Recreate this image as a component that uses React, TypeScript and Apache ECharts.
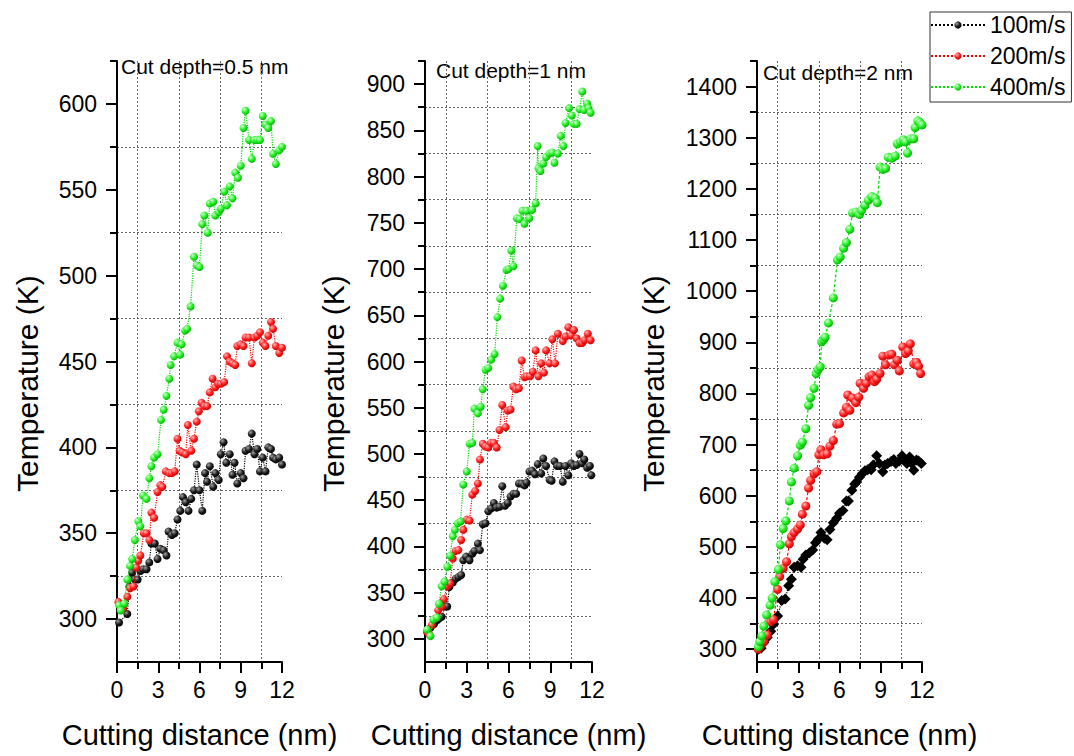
import React, { useEffect, useRef } from 'react';
import * as echarts from 'echarts';

const FONT = '"Liberation Sans", Arial, Helvetica, sans-serif';

const SPEEDS = ['100m/s', '200m/s', '400m/s'];
const DEPTH_LABELS = ['Cut depth=0.5 nm', 'Cut depth=1 nm', 'Cut depth=2 nm'];
const X_NAME = 'Cutting distance (nm)';
const Y_NAME = 'Temperature (K)';
const X_MIN = 0;
const X_MAX = 12;
const X_STEP = 3;
const Y_MIN = [275, 275, 275];
const Y_MAX = [625, 925, 1450];
const Y_STEP = [50, 50, 100];

// ---- Panel 1 : cut depth 0.5 nm ----
const p1_100_x = [0.15,0.75,0.9,1.1,1.3,1.5,1.7,1.9,2.15,2.35,2.5,2.75,2.95,3.15,3.4,3.6,3.75,4.0,4.2,4.4,4.6,4.8,5.0,5.2,5.4,5.6,5.8,6.0,6.2,6.4,6.55,6.75,7.0,7.15,7.4,7.55,7.75,7.95,8.2,8.4,8.55,8.75,9.0,9.2,9.35,9.6,9.8,10.0,10.2,10.4,10.6,10.8,11.0,11.2,11.35,11.55,11.8,12.0];
const p1_100_t = [298,303,319,327,323,323,328,329,329,333,344,344,335,341,340,337,351,349,350,358,363,371,368,363,370,375,390,375,363,385,380,389,377,385,381,396,403,391,396,384,391,379,385,382,398,399,408,396,399,386,394,386,400,399,394,393,394,390];
const p1_200_x = [0.1,0.45,0.75,0.95,1.2,1.4,1.55,1.7,1.95,2.15,2.35,2.5,2.7,2.95,3.15,3.3,3.55,3.8,4.0,4.2,4.4,4.55,4.75,5.0,5.15,5.4,5.6,5.8,5.95,6.15,6.35,6.55,6.75,6.95,7.15,7.35,7.55,7.8,8.0,8.2,8.4,8.6,8.75,9.0,9.2,9.35,9.6,9.8,10.0,10.2,10.4,10.6,10.8,11.0,11.2,11.35,11.55,11.8,12.0];
const p1_200_t = [310,306,313,318,319,330,334,337,350,350,346,362,359,374,378,377,386,385,385,386,405,398,397,396,413,398,405,415,421,426,424,424,432,440,435,437,437,438,453,450,449,448,459,460,459,464,464,449,464,465,467,461,459,465,473,469,459,455,458];
const p1_400_x = [0.15,0.27,0.53,0.75,0.95,1.1,1.3,1.55,1.7,1.9,2.15,2.35,2.5,2.7,2.95,3.2,3.4,3.6,3.8,3.9,4.15,4.4,4.6,4.7,4.95,5.1,5.35,5.6,5.8,6.0,6.2,6.35,6.6,6.75,7.0,7.15,7.4,7.55,7.8,8.0,8.2,8.4,8.6,8.8,9.0,9.2,9.35,9.6,9.8,10.0,10.2,10.4,10.6,10.8,11.0,11.2,11.35,11.55,11.8,12.0];
const p1_400_t = [308,305,309,323,331,335,346,357,354,372,370,382,389,394,396,416,422,430,440,448,453,461,454,460,468,469,482,511,506,505,530,535,525,542,543,535,537,539,549,541,552,545,560,557,564,586,596,579,568,579,579,579,593,588,586,590,571,565,573,575];

// ---- Panel 2 : cut depth 1 nm ----
const p2_100_x = [0.15,0.4,0.65,0.85,1.0,1.2,1.45,1.6,1.75,2.0,2.2,2.4,2.6,2.75,2.95,3.2,3.4,3.55,3.8,3.95,4.15,4.35,4.55,4.75,4.95,5.15,5.35,5.55,5.75,5.95,6.15,6.35,6.55,6.75,6.95,7.15,7.3,7.5,7.7,7.9,8.1,8.35,8.5,8.7,8.95,9.1,9.3,9.5,9.7,9.9,10.1,10.3,10.5,10.7,10.9,11.1,11.3,11.45,11.65,11.85,11.95];
const p2_100_t = [308,312,316,320,322,324,335,335,356,361,365,367,369,385,389,385,392,395,403,396,424,425,438,441,447,442,443,465,444,447,454,457,457,468,468,466,469,481,482,478,489,479,495,487,472,471,492,487,487,470,487,477,490,487,488,500,490,494,485,487,477];
const p2_200_x = [0.15,0.3,0.5,0.75,0.95,1.2,1.35,1.6,1.8,2.0,2.2,2.4,2.6,2.75,3.0,3.2,3.4,3.6,3.8,3.95,4.15,4.35,4.55,4.75,4.95,5.15,5.35,5.55,5.8,5.95,6.15,6.35,6.55,6.75,6.95,7.15,7.3,7.55,7.75,7.95,8.15,8.35,8.55,8.7,8.95,9.15,9.35,9.55,9.9,10.1,10.3,10.5,10.7,10.9,11.1,11.3,11.45,11.7,11.9];
const p2_200_t = [308,305,315,322,331,335,343,357,360,387,395,396,407,418,429,428,456,460,468,494,511,508,507,512,512,507,526,553,529,547,548,573,570,571,601,583,584,584,589,612,584,598,588,612,598,624,598,630,622,627,637,628,634,625,620,620,623,630,623];
const p2_400_x = [0.15,0.4,0.6,0.85,1.0,1.2,1.4,1.6,1.8,2.0,2.15,2.35,2.55,2.75,3.0,3.2,3.4,3.55,3.8,4.0,4.15,4.35,4.55,4.75,5.0,5.2,5.4,5.6,5.85,6.0,6.2,6.35,6.6,6.8,7.0,7.15,7.3,7.5,7.7,7.95,8.1,8.15,8.3,8.5,8.7,8.95,9.15,9.3,9.55,9.75,9.95,10.1,10.35,10.55,10.7,10.9,11.1,11.3,11.45,11.65,11.75,11.9];
const p2_400_t = [310,303,321,323,338,357,362,378,390,411,418,425,427,467,481,511,512,549,544,551,570,591,593,602,608,648,668,682,699,700,720,703,755,754,763,749,763,755,764,771,833,809,806,814,821,825,826,815,825,844,833,858,874,866,857,857,873,892,872,879,874,869];

// ---- Panel 3 : cut depth 2 nm ----
const p3_100_x = [0.1,0.3,0.5,0.75,1.0,1.2,1.5,1.8,2.05,2.3,2.5,2.7,2.95,3.2,3.35,3.55,3.8,4.05,4.25,4.45,4.65,4.9,5.1,5.3,5.55,5.8,6.0,6.25,6.5,6.65,6.9,7.1,7.25,7.45,7.65,7.85,8.05,8.3,8.45,8.7,8.9,9.15,9.3,9.5,9.75,9.95,10.1,10.35,10.55,10.7,10.9,11.1,11.25,11.4,11.6,11.75,11.95];
const p3_100_t = [300,302,313,323,335,349,365,395,398,424,437,460,463,460,476,484,488,494,508,515,528,517,514,534,547,556,566,571,590,590,611,623,627,636,643,649,651,651,660,678,663,647,660,663,667,671,663,668,678,670,663,676,663,650,670,668,663];
const p3_200_x = [0.1,0.25,0.5,0.75,1.0,1.2,1.5,1.65,1.9,2.15,2.35,2.5,2.7,2.95,3.15,3.3,3.55,3.75,3.9,4.15,4.35,4.5,4.65,4.85,5.1,5.3,5.55,5.8,6.0,6.3,6.5,6.6,6.75,6.95,7.2,7.4,7.5,7.75,7.95,8.15,8.35,8.55,8.7,8.95,9.15,9.35,9.6,9.8,10.0,10.2,10.35,10.6,10.8,11.0,11.15,11.4,11.6,11.75,11.9];
const p3_200_t = [300,306,315,328,354,358,417,442,458,471,506,520,528,535,543,564,580,615,630,643,647,680,690,680,682,697,708,740,741,762,773,797,767,791,782,793,820,810,820,833,836,823,828,839,873,856,875,877,856,865,844,891,878,883,897,858,861,853,839];
const p3_400_x = [0.1,0.2,0.35,0.5,0.7,0.95,1.1,1.3,1.55,1.7,1.9,2.1,2.35,2.5,2.7,2.95,3.15,3.3,3.55,3.75,3.9,4.15,4.3,4.45,4.6,4.7,4.85,4.95,5.2,5.55,5.85,6.05,6.3,6.5,6.75,6.95,7.2,7.45,7.6,7.85,8.1,8.35,8.6,8.75,8.95,9.15,9.35,9.55,9.8,10.05,10.2,10.45,10.65,10.8,10.95,11.2,11.4,11.5,11.7,11.85,12.0];
const p3_400_t = [305,315,326,345,367,386,400,432,456,504,536,551,590,627,654,678,699,705,731,777,792,810,839,847,852,901,905,910,938,987,1061,1067,1084,1095,1121,1153,1155,1150,1158,1168,1178,1185,1182,1173,1243,1238,1240,1262,1260,1264,1288,1292,1296,1292,1270,1298,1298,1320,1333,1330,1325];

const PANEL_DATA = [
  [[p1_100_x, p1_100_t], [p1_200_x, p1_200_t], [p1_400_x, p1_400_t]],
  [[p2_100_x, p2_100_t], [p2_200_x, p2_200_t], [p2_400_x, p2_400_t]],
  [[p3_100_x, p3_100_t], [p3_200_x, p3_200_t], [p3_400_x, p3_400_t]],
];

// layout (pixels)
const GRID_LEFT = [117, 425, 757];
const GRID_WIDTH = [165, 167, 165];
const GRID_TOP = 61;
const GRID_HEIGHT = 601;
const Y_NAME_GAP = [75, 77, 89];
const NOTE_POS = [[121, 56], [436, 60], [763, 62]];

const LINE_COLORS = ['#000000', '#ff0000', '#00dd00'];
const BALL_STOPS = [
  ['#a0a0a0', '#1c1c1c', '#000000'],
  ['#ffb4b4', '#ff2020', '#c80000'],
  ['#d0ffd0', '#26f026', '#00b000'],
];

function ball(stops: string[]) {
  return {
    type: 'radial', x: 0.35, y: 0.32, r: 0.72,
    colorStops: [
      { offset: 0, color: stops[0] },
      { offset: 0.55, color: stops[1] },
      { offset: 1, color: stops[2] },
    ],
  };
}

function range(a: number, b: number, step: number) {
  const out: number[] = [];
  for (let v = a; v <= b + 1e-9; v += step) out.push(v);
  return out;
}

function buildOption() {
  const axisLineStyle = { color: '#000', width: 2 };
  const grid: any[] = [];
  const xAxis: any[] = [];
  const yAxis: any[] = [];
  const series: any[] = [];
  const graphic: any[] = [];

  for (let p = 0; p < 3; p++) {
    grid.push({
      left: GRID_LEFT[p], width: GRID_WIDTH[p], top: GRID_TOP, height: GRID_HEIGHT,
      containLabel: false, outerBoundsMode: 'none',
    });
    xAxis.push({
      type: 'value', gridIndex: p, min: X_MIN, max: X_MAX, interval: X_STEP,
      position: 'bottom',
      name: X_NAME, nameLocation: 'middle', nameGap: 58, nameMoveOverlap: false,
      nameTextStyle: { fontSize: 29, fontFamily: FONT, color: '#000' },
      axisLine: { show: true, onZero: false, lineStyle: axisLineStyle },
      axisTick: { show: true, length: 11, lineStyle: axisLineStyle },
      minorTick: { show: true, splitNumber: 2, length: 7, lineStyle: axisLineStyle },
      minorSplitLine: { show: true, lineStyle: { color: '#666', width: 1, type: [2, 2] } },
      splitLine: { show: false },
      axisLabel: { fontSize: 23, fontFamily: FONT, color: '#000', margin: 16, formatter: (v: number) => String(v) },
    });
    const lo = Y_MIN[p];
    const hi = Y_MAX[p];
    const st = Y_STEP[p];
    const firstMajor = Math.ceil(lo / st) * st;
    const majors = range(firstMajor, hi, st);
    const minors = range(firstMajor + st / 2, hi, st);
    // axis carrying data, grid lines and short ticks
    yAxis.push({
      type: 'value', gridIndex: p, min: lo, max: hi, position: 'left',
      name: Y_NAME, nameLocation: 'middle', nameGap: Y_NAME_GAP[p], nameMoveOverlap: false,
      nameTextStyle: { fontSize: 30, fontFamily: FONT, color: '#000', padding: [0, 44, 0, 0] },
      axisLine: { show: true, onZero: false, lineStyle: axisLineStyle },
      axisTick: { show: true, length: 7, lineStyle: axisLineStyle, customValues: minors },
      axisLabel: { show: false },
      splitLine: { show: true, showMaxLine: false, lineStyle: { color: '#666', width: 1, type: [2, 2] } },
    });
    // axis carrying labels and long ticks
    yAxis.push({
      type: 'value', gridIndex: p, min: lo, max: hi, position: 'left', offset: 0,
      axisLine: { show: false },
      axisTick: { show: true, length: 11, lineStyle: axisLineStyle, customValues: majors },
      axisLabel: {
        show: true, fontSize: 23, fontFamily: FONT, color: '#000', margin: 20,
        customValues: majors, formatter: (v: number) => String(v),
      },
      splitLine: { show: false },
    });

    for (let s = 0; s < 3; s++) {
      const [xs, ts] = PANEL_DATA[p][s];
      const diamond = p === 2 && s === 0;
      series.push({
        type: 'line', name: SPEEDS[s], xAxisIndex: p, yAxisIndex: 2 * p,
        data: xs.map((x: number, i: number) => [x, ts[i]]),
        symbol: diamond ? 'diamond' : 'circle',
        symbolSize: diamond ? 11 : (p === 2 ? 9 : 8),
        showSymbol: true,
        lineStyle: { color: LINE_COLORS[s], width: 1.2, type: p === 2 && s > 0 ? [3, 2] : 'dotted' },
        itemStyle: { color: diamond ? '#000' : ball(BALL_STOPS[s]), borderWidth: 0 },
        z: 2 + s,
        silent: true,
      });
    }

    graphic.push({
      type: 'text', left: NOTE_POS[p][0], top: NOTE_POS[p][1],
      style: { text: DEPTH_LABELS[p], fontSize: 21, fontFamily: FONT, fill: '#000' },
    });
  }

  return {
    animation: false,
    backgroundColor: '#fff',
    textStyle: { fontFamily: FONT },
    grid, xAxis, yAxis, series, graphic,
    legend: {
      data: SPEEDS, orient: 'vertical', left: 930, top: 12,
      itemWidth: 54, itemHeight: 9, itemGap: 7,
      padding: [1, 6, 3, 0],
      borderColor: '#333', borderWidth: 1,
      textStyle: { fontSize: 23, fontFamily: FONT, color: '#000', lineHeight: 24 },
    },
  };
}

export default function App() {
  const ref = useRef<HTMLDivElement>(null);
  useEffect(() => {
    document.body.style.margin = '0';
    if (!ref.current) return;
    const chart = echarts.init(ref.current, null, { renderer: 'svg' });
    chart.setOption(buildOption() as any);
    return () => chart.dispose();
  }, []);
  return <div ref={ref} style={{ width: 1074, height: 756 }} />;
}
